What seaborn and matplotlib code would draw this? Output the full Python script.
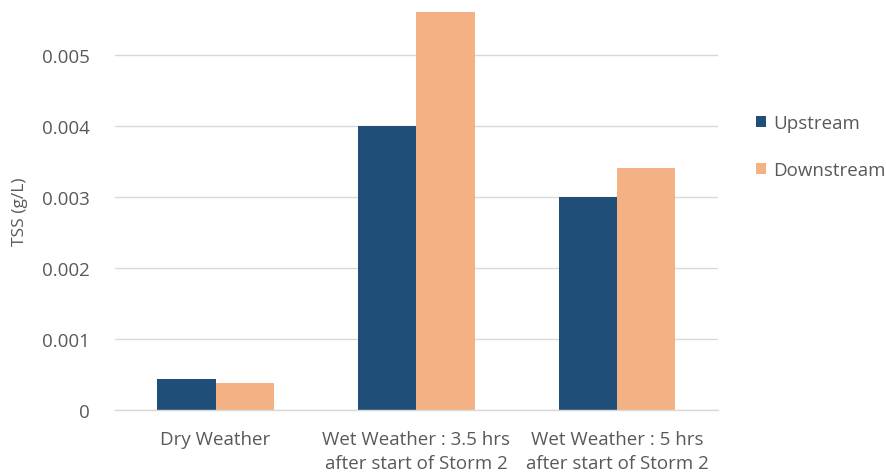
import matplotlib
matplotlib.use("Agg")
import matplotlib.pyplot as plt
import seaborn as sns
import pandas as pd

categories = ["Dry Weather", "Wet Weather : 3.5 hrs\nafter start of Storm 2", "Wet Weather : 5 hrs\nafter start of Storm 2"]
series = ["Upstream", "Downstream"]
upstream = [0.00044, 0.0040, 0.0030]
downstream = [0.00038, 0.0056, 0.0034]
yticks = [0, 0.001, 0.002, 0.003, 0.004, 0.005]
ytick_labels = ["0", "0.001", "0.002", "0.003", "0.004", "0.005"]

df = pd.DataFrame({
    "Category": categories * 2,
    "Series": [series[0]] * 3 + [series[1]] * 3,
    "TSS": upstream + downstream,
})

sns.set_theme(style="white")
plt.rcParams['font.family'] = ['Open Sans', 'DejaVu Sans']
text_color = "#595959"

fig = plt.figure(figsize=(8.86, 4.77), dpi=100)
ax = fig.add_axes([0.130, 0.138, 0.680, 0.835])

sns.barplot(data=df, x="Category", y="TSS", hue="Series", order=categories,
            hue_order=series, palette=["#1F4E79", "#F4B183"], width=0.58,
            gap=0, saturation=1, linewidth=0, ax=ax, legend=True)

ax.set_xlim(-0.5, 2.5)
ax.set_ylim(0, 0.0056)
ax.set_yticks(yticks)
ax.set_yticklabels(ytick_labels)
ax.yaxis.grid(True, color="#D9D9D9", linewidth=1)
ax.set_axisbelow(True)
for s in ["top", "right", "left"]:
    ax.spines[s].set_visible(False)
ax.spines["bottom"].set_color("#D9D9D9")
ax.spines["bottom"].set_linewidth(1)
ax.tick_params(axis="both", length=0, colors=text_color, labelsize=13.5)
ax.tick_params(axis="y", pad=18)
ax.tick_params(axis="x", pad=14)
for lab in ax.get_xticklabels():
    lab.set_linespacing(1.45)
ax.set_xlabel("")
ax.set_ylabel("TSS (g/L)", color=text_color, fontsize=12.5, labelpad=10)

leg = ax.legend(loc="upper left", bbox_to_anchor=(1.035, 0.785), frameon=False,
                fontsize=13.5, labelspacing=1.55, handlelength=0.55, handleheight=0.55,
                handletextpad=0.4)
for t in leg.get_texts():
    t.set_color(text_color)

fig.savefig("out.png", dpi=100)
